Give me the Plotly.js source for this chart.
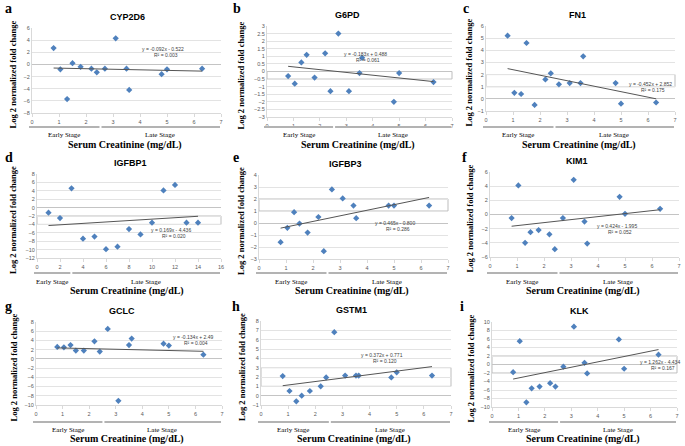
<!DOCTYPE html>
<html>
<head>
<meta charset="utf-8">
<script src="https://cdn.plot.ly/plotly-3.0.1.min.js"></script>
<style>
  html, body { margin: 0; padding: 0; background: #fff; }
  #chart { width: 685px; height: 446px; }
</style>
</head>
<body>
<div id="chart"></div>
<script>
// serum creatinine (mg/dL) of the 14 samples, shared by all panels but d
const creatinine = [0.8, 1.05, 1.3, 1.5, 1.8, 2.2, 2.4, 2.7, 3.1, 3.5, 3.6, 4.8, 5.0, 6.3];
// panel d is plotted against sample order
const sampleOrder = [1, 2, 3, 4, 5, 6, 7, 8, 9, 10, 11, 12, 13, 14];

const letters = ['a', 'b', 'c', 'd', 'e', 'f', 'g', 'h', 'i'];
const genes = ['CYP2D6', 'G6PD', 'FN1', 'IGFBP1', 'IGFBP3', 'KIM1', 'GCLC', 'GSTM1', 'KLK'];

// log2 normalized fold change
const cyp2d6 = [2.7, -0.8, -5.7, 0.2, -0.4, -0.7, -1.3, -0.7, 4.3, -0.7, -4.2, -1.6, -0.8, -0.7];
const g6pd   = [-0.3, -0.8, 0.6, 1.1, -0.4, 1.2, -1.3, 2.5, -1.3, -0.1, 0.9, -2.0, -0.1, -0.7];
const fn1    = [5.2, 0.5, 0.4, 4.6, -0.5, 1.6, 2.1, 1.2, 1.3, 1.3, 3.5, 1.3, -0.4, -0.3];
const igfbp1 = [-1.2, -2.5, 4.6, -7.4, -6.9, -9.9, -9.3, -5.1, -6.4, -3.6, 4.1, 5.4, -3.6, -3.6];
const igfbp3 = [-1.6, -0.4, 0.9, -0.05, -0.8, 0.5, -2.35, 2.8, 2.05, 1.45, 0.4, 1.45, 1.45, 1.45];
const kim1   = [-0.5, 4.1, -4.0, -2.5, -2.2, -2.8, -4.9, -0.5, 4.9, -1.0, -4.1, 2.5, 0.1, 0.8];
const gclc   = [2.6, 2.5, 3.0, 1.8, 1.8, 3.8, 1.6, 6.5, -9.1, 3.0, 4.4, 3.3, 2.9, 0.9];
const gstm1  = [2.1, 0.5, -0.6, 0.0, 0.5, 1.0, 1.95, 6.8, 2.15, 2.15, 2.15, 1.95, 2.5, 2.15];
const klk    = [-1.8, 5.5, -8.9, -5.6, -5.2, -4.4, -5.2, -0.5, 8.9, 0.4, -2.1, 5.9, -1.0, 2.3];
const series = [cyp2d6, g6pd, fn1, igfbp1, igfbp3, kim1, gclc, gstm1, klk];

// linear trendlines
const slopes     = [-0.092, -0.183, -0.452, 0.169, 0.465, 0.424, -0.134, 0.372, 1.262];
const intercepts = [-0.522, 0.488, 2.852, -4.436, -0.800, -1.995, 2.49, 0.771, -4.434];
const eqLabels = ['y = -0.092x - 0.522', 'y = -0.183x + 0.488', 'y = -0.452x + 2.852',
                  'y = 0.169x - 4.436', 'y = 0.465x - 0.800', 'y = 0.424x - 1.995',
                  'y = -0.134x + 2.49', 'y = 0.372x + 0.771', 'y = 1.262x - 4.434'];
const r2Labels = ['R² = 0.003', 'R² = 0.061', 'R² = 0.175', 'R² = 0.020', 'R² = 0.286',
                  'R² = 0.052', 'R² = 0.004', 'R² = 0.120', 'R² = 0.167'];

const yRanges = [[-8, 6], [-3, 3], [-1, 6], [-12, 8], [-3, 4], [-6, 6], [-10, 8], [-1, 8], [-10, 10]];
const yDticks = [2, 0.5, 1, 2, 1, 2, 2, 1, 2];
const bands = [null, [-0.5, 0], [1, 2], [-4, -2], [1, 2], null, null, [1, 3], [-2, 2]];

// pixel placement of each panel: plot box [left, right, top, bottom], title x, y-title x, equation pos
const W = 685, H = 446;
const boxes = [[32, 221, 28, 113], [267, 452, 26, 117], [486, 675, 26, 111],
               [37, 221, 174, 258], [259, 448, 175, 259], [490, 679, 172, 257],
               [36, 222, 322, 405], [261, 451, 321, 405], [492, 677, 322, 407]];
const titleX = [127, 348, 577, 130, 345, 577, 122, 351, 579];
const yTitleX = [13, 240, 469, 13, 241, 469, 13, 242, 470];
const letterX = [3, 231, 461, 3, 231, 460, 3, 230, 458];
const eqPos = [[163, 49], [365, 54], [650, 84], [171, 230], [395, 223], [617, 226], [193, 337], [382, 355], [660, 362]];
const rowLetter = [9, 157, 306];
const rowStage = [127, 273, 422];
const rowStageText = [135, 282, 430];
const rowXTitle = [145, 291, 439];

function px(x) { return x / W; }
function py(y) { return 1 - y / H; }

const traces = [];
const shapes = [];
const annotations = [];
const layout = {
  width: W, height: H,
  margin: { l: 0, r: 0, t: 0, b: 0 },
  paper_bgcolor: '#fff', plot_bgcolor: '#fff',
  showlegend: false,
  font: { family: 'Liberation Sans, Arial, sans-serif', color: '#595959' }
};

for (let i = 0; i < 9; i++) {
  const k = i === 0 ? '' : String(i + 1);
  const [l, r, t, b] = boxes[i];
  const xs = i === 3 ? sampleOrder : creatinine;
  const xMax = i === 3 ? 16 : 7;
  const split = i === 3 ? 2.9 : 2.5;
  const row = Math.floor(i / 3);

  layout['xaxis' + k] = {
    domain: [px(l), px(r)], range: [0, xMax], dtick: i === 3 ? 2 : 1, anchor: 'y' + k,
    showgrid: false, zeroline: false, showline: true, linecolor: '#d9d9d9', linewidth: 1,
    ticks: 'outside', ticklen: 3, tickcolor: '#d9d9d9',
    tickfont: { size: 5.5, color: '#595959' }, fixedrange: true
  };
  layout['yaxis' + k] = {
    domain: [py(b), py(t)], range: yRanges[i], dtick: yDticks[i], anchor: 'x' + k,
    showgrid: true, gridcolor: '#e3e3e3', gridwidth: 1,
    zeroline: true, zerolinecolor: '#c4c4c4', zerolinewidth: 1,
    showline: true, linecolor: '#d9d9d9', ticks: '',
    tickfont: { size: 5.5, color: '#595959' }, fixedrange: true
  };

  traces.push({
    x: xs, y: series[i], xaxis: 'x' + k, yaxis: 'y' + k,
    type: 'scatter', mode: 'markers',
    marker: { symbol: 'diamond', size: 4.8, color: '#4f81bd' }
  });

  const x0 = Math.min(...xs), x1 = Math.max(...xs);
  traces.push({
    x: [x0, x1], y: [slopes[i] * x0 + intercepts[i], slopes[i] * x1 + intercepts[i]],
    xaxis: 'x' + k, yaxis: 'y' + k, type: 'scatter', mode: 'lines',
    line: { color: '#555', width: 1 }
  });

  if (bands[i]) {
    shapes.push({
      type: 'rect', xref: 'x' + k + ' domain', yref: 'y' + k, x0: 0, x1: 1, layer: 'below',
      y0: bands[i][0], y1: bands[i][1], line: { color: '#bdbdbd', width: 1 }
    });
  }

  // stage bars under the x axis
  const splitPx = l + (r - l) * split / xMax;
  shapes.push({ type: 'line', xref: 'paper', yref: 'paper', x0: px(l - 3), x1: px(splitPx),
    y0: py(rowStage[row]), y1: py(rowStage[row]), line: { color: '#b3b3b3', width: 2 } });
  shapes.push({ type: 'line', xref: 'paper', yref: 'paper', x0: px(splitPx + 2), x1: px(r - 1),
    y0: py(rowStage[row]), y1: py(rowStage[row]), line: { color: '#b3b3b3', width: 2 } });

  const serifBold = { family: 'Liberation Serif, Times New Roman, serif', color: '#000' };
  annotations.push(
    { text: 'Early Stage', x: px((l - 3 + splitPx) / 2), y: py(rowStageText[row]),
      font: Object.assign({ size: 7 }, serifBold) },
    { text: 'Late Stage', x: px((splitPx + r) / 2), y: py(rowStageText[row]),
      font: Object.assign({ size: 7 }, serifBold) },
    { text: '<b>Serum Creatinine (mg/dL)</b>', x: px((l + r) / 2 - 2), y: py(rowXTitle[row]),
      font: Object.assign({ size: 10 }, serifBold) },
    { text: '<b>Log 2 normalized fold change</b>', x: px(yTitleX[i]), y: py((t + b) / 2 + 4),
      textangle: -90, font: Object.assign({ size: 8.5 }, serifBold) },
    { text: '<b>' + letters[i] + '</b>', x: px(letterX[i]), y: py(rowLetter[row]),
      xanchor: 'left', font: Object.assign({ size: 14 }, serifBold) },
    { text: '<b>' + genes[i] + '</b>', x: px(titleX[i]), y: py(t - 11),
      font: { family: 'Liberation Sans, Arial, sans-serif', size: 9, color: '#000' } },
    { text: eqLabels[i], x: px(eqPos[i][0]), y: py(eqPos[i][1]),
      font: { size: 5, color: '#404040' } },
    { text: r2Labels[i], x: px(eqPos[i][0] + 3), y: py(eqPos[i][1] + 6),
      font: { size: 5, color: '#404040' } }
  );
}

annotations.forEach(a => {
  a.xref = 'paper'; a.yref = 'paper'; a.showarrow = false;
  if (!a.xanchor) a.xanchor = 'center';
  a.yanchor = 'middle';
});
layout.shapes = shapes;
layout.annotations = annotations;

Plotly.newPlot('chart', traces, layout, { displayModeBar: false, staticPlot: true });
</script>
</body>
</html>
